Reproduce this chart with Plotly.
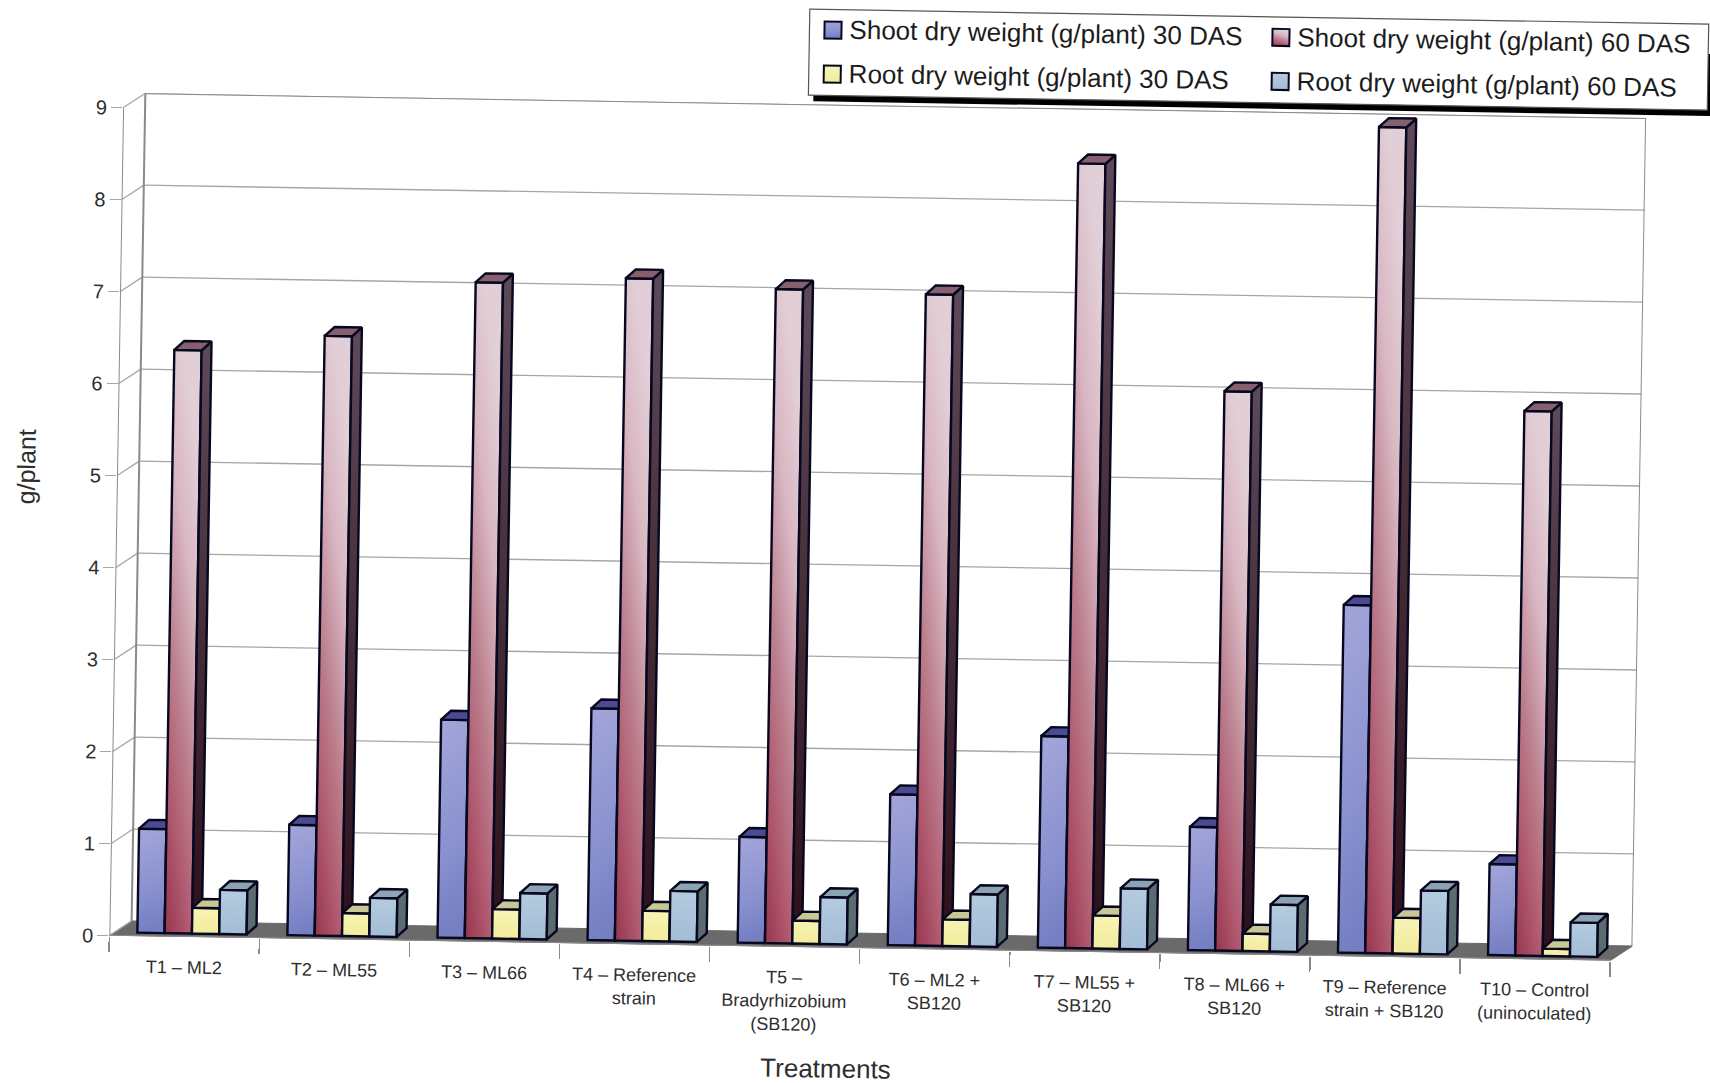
import plotly.graph_objects as go

# Dry weight per treatment, g/plant
treatments = ["T1 – ML2", "T2 – ML55", "T3 – ML66", "T4 – Reference<br>strain",
              "T5 –<br>Bradyrhizobium<br>(SB120)", "T6 – ML2 +<br>SB120", "T7 – ML55 +<br>SB120",
              "T8 – ML66 +<br>SB120", "T9 – Reference<br>strain + SB120", "T10 – Control<br>(uninoculated)"]
shoot_30 = [1.13, 1.20, 2.37, 2.52, 1.15, 1.64, 2.30, 1.34, 3.78, 0.99]
shoot_60 = [6.34, 6.52, 7.13, 7.20, 7.11, 7.08, 8.53, 6.08, 8.98, 5.92]
root_30 = [0.28, 0.25, 0.32, 0.33, 0.25, 0.29, 0.36, 0.19, 0.39, 0.08]
root_60 = [0.48, 0.42, 0.50, 0.55, 0.51, 0.57, 0.66, 0.51, 0.69, 0.37]
y_ticks = [0, 1, 2, 3, 4, 5, 6, 7, 8, 9]

series = [
    ("Shoot dry weight (g/plant) 30 DAS", shoot_30, "rgb(130,140,205)", "#4b4a92", "#3d4a80"),
    ("Shoot dry weight (g/plant) 60 DAS", shoot_60, "rgb(170,70,95)", "#86606f", "#47232f"),
    ("Root dry weight (g/plant) 30 DAS", root_30, "rgb(245,240,170)", "#c9c795", "#8d8b60"),
    ("Root dry weight (g/plant) 60 DAS", root_60, "rgb(170,195,218)", "#8ba3b3", "#5b6c70"),
]

# Pseudo-3D geometry, in axis units
DEPTH_X, DEPTH_Y = 0.1466, 0.163
FACE_BASE = 0.038
GROUP_START = 0.186
BAR_W = 0.182
BAR_DX, BAR_DY = 0.065, 0.098
OUTLINE = "#07071f"
GRID = "#a6a6a6"
WALL = "#8a8a8a"
TEXT = "#2e2e2e"

fig = go.Figure()
for k, (name, values, color, top_col, side_col) in enumerate(series):
    suffix = "" if k == 0 else str(k + 1)
    xa, ya = "x" + suffix, "y" + suffix
    lefts = [i + GROUP_START + k * BAR_W for i in range(len(values))]
    fig.add_trace(go.Bar(
        x=lefts, y=values, base=FACE_BASE, width=BAR_W, offset=0, name=name,
        marker=dict(color=color, line=dict(color=OUTLINE, width=2.4)),
        xaxis=xa, yaxis=ya, hoverinfo="skip", showlegend=False,
    ))
    # Side and top faces of each bar; the tall series gets a shaded side per bar
    tx, ty, sx, sy = [], [], [], []
    for x0, v in zip(lefts, values):
        x1, top = x0 + BAR_W, v + FACE_BASE
        bar_sx = [x1, x1 + BAR_DX, x1 + BAR_DX, x1, x1]
        bar_sy = [FACE_BASE, FACE_BASE + BAR_DY, top + BAR_DY, top, FACE_BASE]
        tx += [x0, x0 + BAR_DX, x1 + BAR_DX, x1, x0, None]
        ty += [top, top + BAR_DY, top + BAR_DY, top, top, None]
        if k == 1:
            fig.add_trace(go.Scatter(
                x=bar_sx, y=bar_sy, mode="lines", fill="toself",
                fillgradient=dict(type="vertical", colorscale=[[0, "#2c1019"], [1, "#5d4a58"]]),
                line=dict(color=OUTLINE, width=2.4), showlegend=False,
                xaxis=xa, yaxis=ya, hoverinfo="skip",
            ))
        else:
            sx += bar_sx + [None]
            sy += bar_sy + [None]
    for px_, py_, col in ((sx, sy, side_col), (tx, ty, top_col)):
        if px_:
            fig.add_trace(go.Scatter(
                x=px_, y=py_, mode="lines", fill="toself", fillcolor=col,
                line=dict(color=OUTLINE, width=2.4), showlegend=False,
                xaxis=xa, yaxis=ya, hoverinfo="skip",
            ))

X_MAX = len(treatments)
Y_MAX = y_ticks[-1]
shapes = [dict(
    type="path", xref="x", yref="y", layer="below", fillcolor="#6a6a6a", line=dict(color="#6a6a6a", width=1),
    path=f"M0,0 L{DEPTH_X},{DEPTH_Y} L{X_MAX + DEPTH_X},{DEPTH_Y} L{X_MAX},0 Z",
)]


def seg(x0, y0, x1, y1, color=GRID, width=1.3):
    return dict(type="line", xref="x", yref="y", layer="below", x0=x0, y0=y0, x1=x1, y1=y1,
                line=dict(color=color, width=width))


for v in y_ticks:
    shapes.append(seg(0, v, DEPTH_X, v + DEPTH_Y))
    if v:
        shapes.append(seg(DEPTH_X, v + DEPTH_Y, X_MAX + DEPTH_X, v + DEPTH_Y))
shapes += [
    seg(0, 0, 0, Y_MAX, WALL, 2),
    seg(DEPTH_X, DEPTH_Y, DEPTH_X, Y_MAX + DEPTH_Y, WALL, 2),
    seg(X_MAX + DEPTH_X, DEPTH_Y, X_MAX + DEPTH_X, Y_MAX + DEPTH_Y, WALL, 2),
    seg(DEPTH_X, Y_MAX + DEPTH_Y, X_MAX + DEPTH_X, Y_MAX + DEPTH_Y, WALL, 2),
    seg(0, 0, X_MAX, 0, WALL, 2),
]

# Plot area in pixels
L, R, T, B = 116, 1639, 105, 948
W, H = 1710, 1083


def px(x):
    return (x - L) / (R - L)


def py(y):
    return (B - y) / (B - T)


def paper_rect(x0, y0, x1, y1, fill, line=None, width=0):
    return dict(type="rect", xref="paper", yref="paper", layer="above",
                x0=px(x0), x1=px(x1), y0=py(y0), y1=py(y1),
                fillcolor=fill, line=dict(color=line or fill, width=width))


# Legend panel with its hard shadow, two rows of two entries
shapes.append(paper_rect(806, 40, 1705, 102, "#000000"))
shapes.append(paper_rect(801, 10, 1700, 96, "#ffffff", "#555555", 1.2))
legend_cells = [(839, 30), (1287, 30), (839, 74), (1287, 74)]
annotations = []
for (name, _, color, _, _), (lx, ly) in zip(series, legend_cells):
    shapes.append(paper_rect(lx - 23, ly - 8, lx - 6, ly + 9, color, OUTLINE, 2))
    annotations.append(dict(text=name, xref="paper", yref="paper", x=px(lx), y=py(ly),
                            xanchor="left", yanchor="middle", showarrow=False,
                            font=dict(size=26, color="#1c1c1c")))
annotations += [
    dict(text="g/plant", xref="paper", yref="paper", x=px(25), y=py(481), xanchor="center",
         yanchor="middle", showarrow=False, textangle=-90, font=dict(size=25, color=TEXT)),
    dict(text="Treatments", xref="paper", yref="paper", x=px(834), y=py(1069), xanchor="center",
         yanchor="middle", showarrow=False, font=dict(size=26, color=TEXT)),
]

axis_range = dict(x=[0, X_MAX + DEPTH_X], y=[0, Y_MAX + DEPTH_Y])
layout = dict(
    width=W, height=H, margin=dict(l=L, r=W - R, t=T, b=H - B, pad=0),
    paper_bgcolor="white", plot_bgcolor="rgba(0,0,0,0)", barmode="overlay",
    font=dict(family="Liberation Sans", color=TEXT), showlegend=False,
    shapes=shapes, annotations=annotations,
    xaxis=dict(
        range=axis_range["x"], showgrid=False, zeroline=False, showline=False,
        tickmode="array", tickvals=[i + 0.5 for i in range(X_MAX)], ticktext=treatments,
        ticks="outside", ticklen=14, tickcolor="rgba(0,0,0,0)", tickangle=0,
        tickfont=dict(size=18, color=TEXT),
        minor=dict(tickmode="array", tickvals=list(range(X_MAX + 1)), ticks="outside", ticklen=15,
                   tickcolor=WALL, tickwidth=1.5, showgrid=False),
    ),
    yaxis=dict(
        range=axis_range["y"], showgrid=False, zeroline=False, showline=False,
        tickmode="array", tickvals=y_ticks, ticks="outside", ticklen=11, tickcolor=GRID,
        tickfont=dict(size=20, color=TEXT),
    ),
)
# One overlaid axis pair per series keeps nearer bars painted over farther ones
for k in range(1, len(series)):
    n = k + 1
    layout[f"xaxis{n}"] = dict(range=axis_range["x"], overlaying="x", visible=False)
    layout[f"yaxis{n}"] = dict(range=axis_range["y"], overlaying="y", visible=False)
fig.update_layout(**layout)

# Shaded bar fills and the slight clockwise tilt of the whole sheet
post = """
var gd = document.getElementById('{plot_id}');
var NS = 'http://www.w3.org/2000/svg';
var svg = gd.querySelector('svg.main-svg');
var defs = document.createElementNS(NS, 'defs');
svg.appendChild(defs);
var grads = {
  'rgb(130, 140, 205)': [[0,0.05,0.1,1],[[0,'#a0a4d8'],[0.6,'#8a91cf'],[1,'#757fc2']]],
  'rgb(170, 70, 95)': [[0,1,0.3,0],[[0,'#96354e'],[0.25,'#b05a70'],[0.47,'#bb7f8d'],[0.75,'#d8b6c2'],[1,'#e2ced6']]],
  'rgb(245, 240, 170)': [[0,0,0,1],[[0,'#f7f3b4'],[1,'#f2ec9c']]],
  'rgb(170, 195, 218)': [[0,0,0,1],[[0,'#b4cbdf'],[1,'#a3bdd6']]]
};
var ids = {}, n = 0;
Object.keys(grads).forEach(function (key) {
  var g = document.createElementNS(NS, 'linearGradient');
  var id = 'barshade' + (n++);
  var c = grads[key][0];
  g.setAttribute('id', id);
  g.setAttribute('x1', c[0]); g.setAttribute('y1', c[1]);
  g.setAttribute('x2', c[2]); g.setAttribute('y2', c[3]);
  grads[key][1].forEach(function (st) {
    var s = document.createElementNS(NS, 'stop');
    s.setAttribute('offset', st[0]);
    s.setAttribute('stop-color', st[1]);
    g.appendChild(s);
  });
  defs.appendChild(g);
  ids[key] = id;
});
gd.querySelectorAll('.bars .point path, .shapelayer path').forEach(function (p) {
  var id = ids[p.style.fill];
  if (id) { p.style.fill = 'url(#' + id + ')'; }
});
document.documentElement.style.overflow = 'hidden';
document.body.style.overflow = 'hidden';
gd.style.transformOrigin = '855px 541.5px';
gd.style.transform = 'rotate(0.95deg)';
"""
fig.write_html("out.html", post_script=post, config=dict(staticPlot=True, responsive=False))
